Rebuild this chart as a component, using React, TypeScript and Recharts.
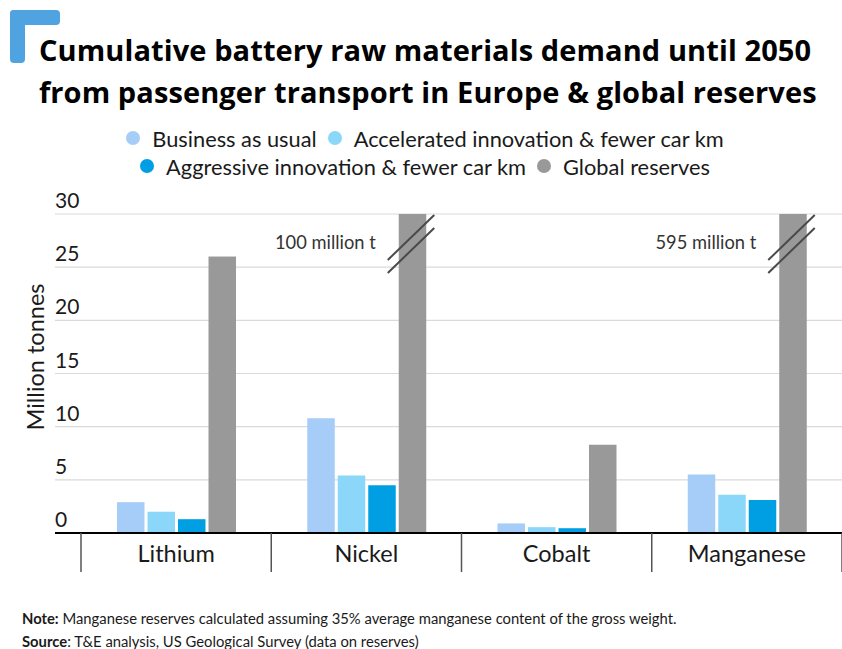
import React from 'react';
import { BarChart, Bar, XAxis, YAxis, CartesianGrid } from 'recharts';

const categories = ['Lithium', 'Nickel', 'Cobalt', 'Manganese'];
const businessAsUsual = [2.9, 10.8, 0.9, 5.5];
const acceleratedInnovation = [2.0, 5.4, 0.55, 3.6];
const aggressiveInnovation = [1.3, 4.5, 0.45, 3.1];
const globalReserves = [26, 100, 8.3, 595];
const yTicks = [0, 5, 10, 15, 20, 25, 30];

const seriesNames = [
  'Business as usual',
  'Accelerated innovation & fewer car km',
  'Aggressive innovation & fewer car km',
  'Global reserves',
];
const seriesKeys = ['bau', 'accel', 'aggr', 'reserves'];
const seriesColors = ['#a6cdf7', '#8ad7fa', '#009fe3', '#999999'];

const data = categories.map((category, i) => ({
  category,
  bau: businessAsUsual[i],
  accel: acceleratedInnovation[i],
  aggr: aggressiveInnovation[i],
  reserves: globalReserves[i],
}));

const FONT = 'Lato, "Open Sans", sans-serif';
const TITLE_FONT = '"Open Sans", Lato, sans-serif';
const TEXT = '#1a1a1a';

const YTick = (props: any) => {
  const { x, y, payload } = props;
  return (
    <text x={x} y={y - 14.5} textAnchor="start" dominantBaseline="central" fontFamily={FONT} fontSize={21} fill={TEXT}>
      {payload.value}
    </text>
  );
};

const XTick = (props: any) => {
  const { x, y, payload, visibleTicksCount } = props;
  const half = typeof payload.offset === 'number' ? payload.offset : 0;
  const last = payload.index === visibleTicksCount - 1;
  return (
    <g>
      {half > 0 && <line x1={x - half} x2={x - half} y1={y} y2={y + 39} stroke="#555" strokeWidth={1.5} />}
      {half > 0 && last && <line x1={x + half} x2={x + half} y1={y} y2={y + 39} stroke="#555" strokeWidth={1.5} />}
      <text x={x} y={y + 20} textAnchor="middle" dominantBaseline="central" fontFamily={FONT} fontSize={23.5} fill={TEXT}>
        {payload.value}
      </text>
    </g>
  );
};

const ReserveShape = (props: any) => {
  const { x, y, width, height, fill, background, payload } = props;
  const top = background && typeof background.y === 'number' ? background.y : y;
  const clipped = y < top - 0.5;
  const ry = clipped ? top : y;
  const rh = clipped ? y + height - top : height;
  return (
    <g>
      <rect x={x} y={ry} width={width} height={rh} fill={fill} />
      {clipped && (
        <g>
          <line x1={x - 11} y1={top + 46} x2={x + width + 8} y2={top + 1} stroke="#4a4a4a" strokeWidth={2} />
          <line x1={x - 11} y1={top + 59} x2={x + width + 8} y2={top + 14} stroke="#4a4a4a" strokeWidth={2} />
          <text x={x - 23} y={top + 28} textAnchor="end" dominantBaseline="central" fontFamily={FONT} fontSize={18.3} fill="#333">
            {`${payload.reserves} million t`}
          </text>
        </g>
      )}
    </g>
  );
};

const LegendRow = ({ idx }: { idx: number[] }) => (
  <div style={{ display: 'flex', justifyContent: 'center', alignItems: 'center', height: 28 }}>
    {idx.map((i, n) => (
      <div key={i} style={{ display: 'flex', alignItems: 'center', marginLeft: n > 0 ? 11 : 0 }}>
        <span style={{ width: 14, height: 14, borderRadius: 7, background: seriesColors[i], display: 'inline-block', marginRight: 12 }} />
        <span style={{ fontSize: 21.8, color: TEXT }}>{seriesNames[i]}</span>
      </div>
    ))}
  </div>
);

export default function App() {
  return (
    <div style={{ position: 'absolute', left: 0, top: 0, width: 842, height: 649, background: '#fff', fontFamily: FONT, overflow: 'hidden' }}>
      <div style={{ position: 'absolute', left: 10, top: 10, width: 50, height: 15, background: '#4fa3e0', borderRadius: 4 }} />
      <div style={{ position: 'absolute', left: 10, top: 10, width: 15, height: 53, background: '#4fa3e0', borderRadius: 4 }} />
      <div style={{ position: 'absolute', left: 39, top: 29, fontFamily: TITLE_FONT, fontSize: 29, fontWeight: 700, lineHeight: '42px', color: '#000', whiteSpace: 'nowrap', letterSpacing: 0.1 }}>
        <div>Cumulative battery raw materials demand until 2050</div>
        <div>from passenger transport in Europe &amp; global reserves</div>
      </div>
      <div style={{ position: 'absolute', left: 4, top: 124, width: 842 }}>
        <LegendRow idx={[0, 1]} />
        <LegendRow idx={[2, 3]} />
      </div>
      <div style={{ position: 'absolute', left: 35 - 100, top: 357 - 14, width: 200, height: 28, textAlign: 'center', fontSize: 23.5, color: TEXT, lineHeight: '28px', transform: 'rotate(-90deg)' }}>
        Million tonnes
      </div>
      <div style={{ position: 'absolute', left: 0, top: 0 }}>
        <BarChart width={842} height={600} data={data} margin={{ top: 214, right: 0, left: 55, bottom: 27 }} barGap={3} barSize={27.5}>
          <CartesianGrid vertical={false} stroke="#dadada" strokeWidth={1.2} />
          <XAxis
            dataKey="category"
            padding={{ left: 26, right: 0 }}
            height={40}
            interval={0}
            tickLine={false}
            tickSize={0}
            tickMargin={0}
            axisLine={{ stroke: '#000', strokeWidth: 2 }}
            tick={<XTick />}
          />
          <YAxis
            domain={[0, 30]}
            ticks={yTicks}
            allowDataOverflow
            mirror
            axisLine={false}
            tickLine={false}
            tickSize={0}
            tickMargin={0}
            interval={0}
            tick={<YTick />}
          />
          {seriesKeys.slice(0, 3).map((k, i) => (
            <Bar key={k} dataKey={k} name={seriesNames[i]} fill={seriesColors[i]} isAnimationActive={false} />
          ))}
          <Bar dataKey="reserves" name={seriesNames[3]} fill={seriesColors[3]} isAnimationActive={false} shape={<ReserveShape />} />
        </BarChart>
      </div>
      <div style={{ position: 'absolute', left: 22, top: 607, fontSize: 14.8, color: TEXT, lineHeight: '23px', whiteSpace: 'nowrap' }}>
        <div><b>Note:</b> Manganese reserves calculated assuming 35% average manganese content of the gross weight.</div>
        <div><b>Source</b>: T&amp;E analysis, US Geological Survey (data on reserves)</div>
      </div>
    </div>
  );
}
